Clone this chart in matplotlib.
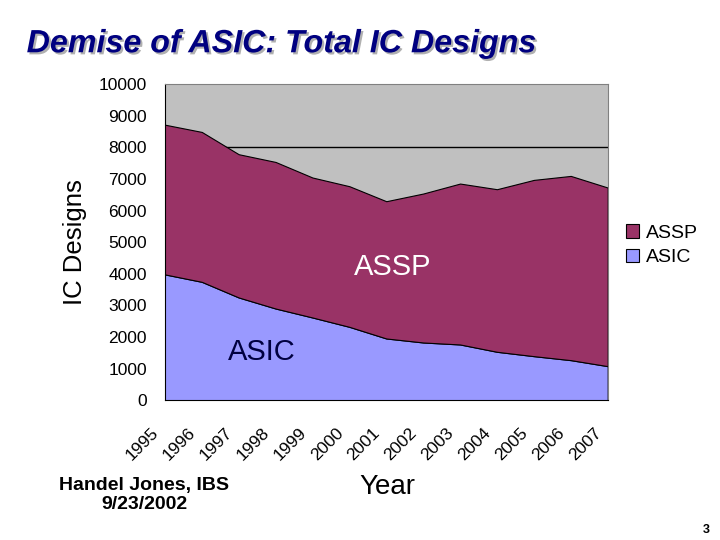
import numpy as np
import matplotlib.pyplot as plt
import matplotlib.patheffects as pe
from matplotlib.transforms import ScaledTranslation

plt.rcParams['font.family'] = ['Liberation Sans', 'DejaVu Sans']

# data
years = [1995, 1996, 1997, 1998, 1999, 2000, 2001, 2002, 2003, 2004, 2005, 2006, 2007]
asic = [3980, 3745, 3250, 2900, 2616, 2320, 1952, 1825, 1762, 1530, 1392, 1266, 1076]
total = [8720, 8490, 7785, 7540, 7047, 6772, 6297, 6540, 6856, 6677, 6972, 7098, 6730]
assp = [t - a for t, a in zip(total, asic)]

navy = '#000080'

fig = plt.figure(figsize=(7.2, 5.4), dpi=100)
ax = fig.add_axes([0.229, 0.259, 0.615, 0.585])
ax.set_facecolor('#C0C0C0')

x = np.arange(len(years))
ax.axhline(8000, color='black', lw=1, zorder=0.5)
stk = ax.stackplot(x, asic, assp, colors=['#9999FF', '#993366'],
                   edgecolor='black', linewidth=0.8, labels=['ASIC', 'ASSP'])

ax.set_xlim(0, len(years) - 1)
ax.set_ylim(0, 10000)
ax.set_yticks(np.arange(0, 10001, 1000))
ax.set_yticklabels([str(v) for v in range(0, 10001, 1000)], fontsize=12.5)
ax.tick_params(axis='y', length=0, pad=13)
ax.set_yticks([0, 3000, 5000, 8000, 10000], minor=True)
ax.tick_params(axis='y', which='minor', length=5, width=1)

ax.set_xticks(x)
ax.set_xticklabels([str(y) for y in years], rotation=45, fontsize=12.5,
                   ha='right', va='top', rotation_mode='anchor')
ax.tick_params(axis='x', length=0, pad=0)
off = ScaledTranslation(-10 / 72, -18 / 72, fig.dpi_scale_trans)
for lab in ax.get_xticklabels():
    lab.set_transform(lab.get_transform() + off)
ax.set_xticks([6.0, 12.0], minor=True)
ax.tick_params(axis='x', which='minor', length=5, width=1)

for s in ['top', 'right']:
    ax.spines[s].set_color('#808080')
for s in ['left', 'bottom']:
    ax.spines[s].set_color('black')

ax.set_ylabel('IC Designs', fontsize=18.5, labelpad=8)
fig.text(0.538, 0.098, 'Year', fontsize=20, ha='center', va='center')

ax.text(6.18, 4200, 'ASSP', color='white', fontsize=21, ha='center', va='center')
ax.text(2.63, 1520, 'ASIC', color='#000040', fontsize=21, ha='center', va='center')

handles = [stk[1], stk[0]]
leg = ax.legend(handles, ['ASSP', 'ASIC'], loc='center left', bbox_to_anchor=(1.01, 0.49),
                frameon=False, fontsize=14, handlelength=0.7, handleheight=0.7,
                handletextpad=0.35, labelspacing=0.35, borderpad=0.2)

fig.text(0.037, 0.918, 'Demise of ASIC: Total IC Designs', fontsize=23.2, fontweight='bold',
         fontstyle='italic', color=navy, ha='left', va='center',
         path_effects=[pe.withSimplePatchShadow(offset=(1.5, -1.5), shadow_rgbFace='#B0B0B0', alpha=1)])

fig.text(0.200, 0.083, 'Handel Jones, IBS\n9/23/2002', fontsize=14, fontweight='bold',
         ha='center', va='center', linespacing=1.2)
fig.text(0.981, 0.018, '3', fontsize=9, fontweight='bold', ha='center', va='center')

fig.savefig('out.png', dpi=100)
